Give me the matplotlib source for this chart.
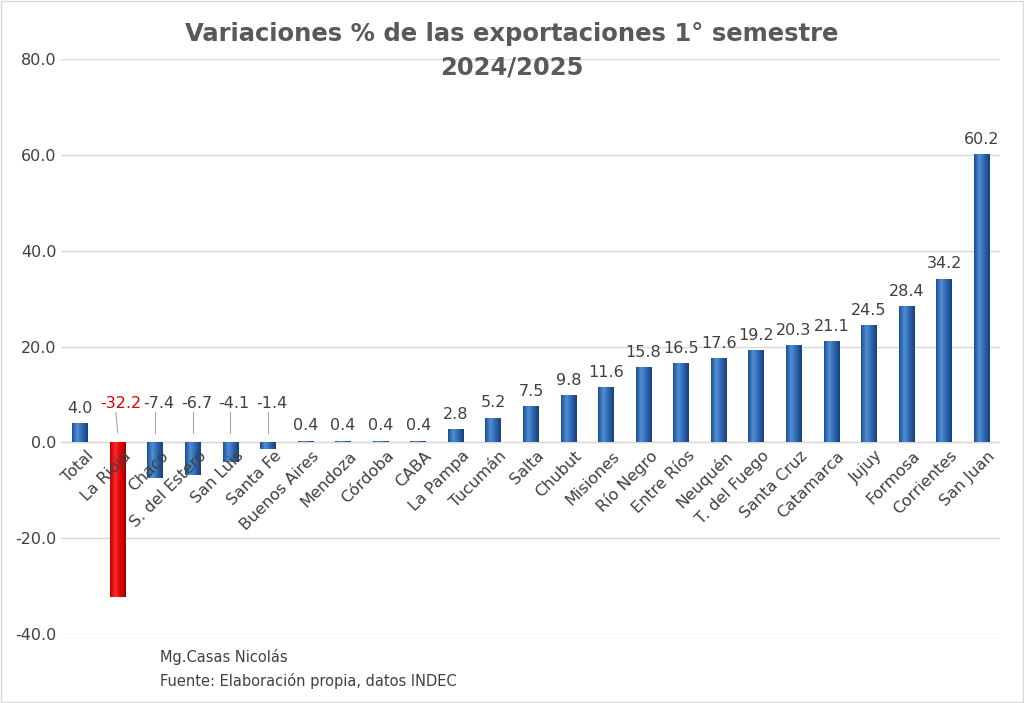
import numpy as np
import matplotlib.pyplot as plt
from matplotlib.colors import LinearSegmentedColormap

provincias = ['Total', 'La Rioja', 'Chaco', 'S. del Estero', 'San Luis', 'Santa Fe',
              'Buenos Aires', 'Mendoza', 'Córdoba', 'CABA', 'La Pampa', 'Tucumán',
              'Salta', 'Chubut', 'Misiones', 'Río Negro', 'Entre Ríos', 'Neuquén',
              'T. del Fuego', 'Santa Cruz', 'Catamarca', 'Jujuy', 'Formosa',
              'Corrientes', 'San Juan']
variacion = [4.0, -32.2, -7.4, -6.7, -4.1, -1.4, 0.4, 0.4, 0.4, 0.4, 2.8, 5.2,
             7.5, 9.8, 11.6, 15.8, 16.5, 17.6, 19.2, 20.3, 21.1, 24.5, 28.4,
             34.2, 60.2]
etiquetas = ['4.0', '-32.2', '-7.4', '-6.7', '-4.1', '-1.4', '0.4', '0.4', '0.4', '0.4',
             '2.8', '5.2', '7.5', '9.8', '11.6', '15.8', '16.5', '17.6', '19.2',
             '20.3', '21.1', '24.5', '28.4', '34.2', '60.2']

fig = plt.figure(figsize=(10.24, 7.03), dpi=100)
ax = fig.add_axes([0.06, 0.098, 0.917, 0.818])

x = np.arange(len(provincias))
w = 0.42
azul = LinearSegmentedColormap.from_list('az', ['#1d4f8f', '#4f8fd6', '#2d64ad', '#17417a'])
rojo = LinearSegmentedColormap.from_list('rj', ['#c00000', '#ff2a2a', '#e00000', '#a00000'])
grad = np.linspace(0, 1, 50).reshape(1, -1)

bars = ax.bar(x, variacion, width=w, color='none', edgecolor='none', zorder=3)
for i, b in enumerate(bars):
    cm = rojo if provincias[i] == 'La Rioja' else azul
    y0, y1 = sorted([0, variacion[i]])
    im = ax.imshow(grad, cmap=cm, aspect='auto', zorder=3,
                   extent=[b.get_x(), b.get_x() + w, y0, y1])
    im.set_clip_path(b)

for i, v in enumerate(variacion):
    if v >= 0:
        ax.text(x[i], v + 1.5, etiquetas[i], ha='center', va='bottom', fontsize=11.5, color='#404040')
    elif provincias[i] == 'La Rioja':
        ax.text(x[i] + 0.08, 6.5, etiquetas[i], ha='center', va='bottom', fontsize=11.5, color='#e00000')
        ax.plot([x[i] - 0.05, x[i]], [6.3, 2], color='#a6a6a6', lw=0.8)
    else:
        ax.text(x[i] + 0.1, 6.5, etiquetas[i], ha='center', va='bottom', fontsize=11.5, color='#404040')
        ax.plot([x[i], x[i]], [6.3, 2], color='#a6a6a6', lw=0.8)

ax.set_xlim(-0.5, len(provincias) - 0.5)
ax.set_ylim(-40, 80)
ax.set_yticks(np.arange(-40, 81, 20))
ax.set_yticklabels([f'{t:.1f}' for t in np.arange(-40, 81, 20)], fontsize=11.5, color='#404040')
ax.set_xticks([])
for i, p in enumerate(provincias):
    ax.text(x[i] + 0.15, -1.2, p, rotation=45, ha='right', va='top', fontsize=11.5,
            color='#404040', rotation_mode='anchor', zorder=4)
ax.grid(axis='y', color='#d9d9d9', lw=1)
ax.set_axisbelow(True)
ax.axhline(0, color='#d9d9d9', lw=1, zorder=1)
for s in ax.spines.values():
    s.set_visible(False)
ax.tick_params(axis='y', length=0)

fig.text(0.5, 0.968, 'Variaciones % de las exportaciones 1° semestre\n2024/2025',
         ha='center', va='top', fontsize=17.5, fontweight='bold', color='#595959', linespacing=1.5)
fig.text(0.156, 0.065, 'Mg.Casas Nicolás', fontsize=10.5, color='#404040', va='center')
fig.text(0.156, 0.031, 'Fuente: Elaboración propia, datos INDEC', fontsize=10.5, color='#404040', va='center')
fig.patches.append(plt.Rectangle((0.001, 0.001), 0.998, 0.998, transform=fig.transFigure,
                                 fill=False, edgecolor='#d9d9d9', lw=1))

fig.savefig('out.png', dpi=100)
